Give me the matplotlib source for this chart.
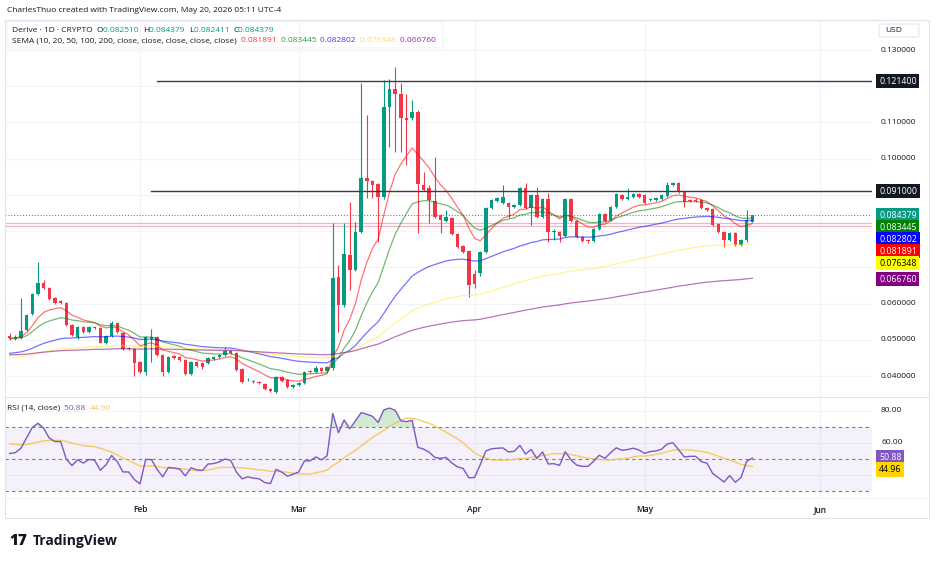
import matplotlib
matplotlib.use("Agg")
import matplotlib.pyplot as plt
import matplotlib.dates as mdates
from matplotlib.transforms import blended_transform_factory
from matplotlib.patches import Rectangle, FancyBboxPatch
import numpy as np
import pandas as pd

plt.rcParams['font.family'] = ['Open Sans', 'DejaVu Sans']

# ---------------- data ----------------
start_date = '2026-01-09'
opens = [
    0.0511, 0.0502, 0.0505, 0.0527, 0.0571, 0.0627, 0.0657, 0.0643, 0.0616, 0.0607,
    0.0602, 0.0541, 0.0508, 0.0536, 0.0522, 0.0536, 0.0533, 0.0492, 0.0511, 0.0547,
    0.0519, 0.0478, 0.0475, 0.0439, 0.0411, 0.0502, 0.0508, 0.0458, 0.0411, 0.0455,
    0.0452, 0.0444, 0.0406, 0.0439, 0.0436, 0.0436, 0.0447, 0.0452, 0.0458, 0.0469,
    0.0464, 0.0419, 0.0389, 0.0386, 0.0384, 0.0378, 0.0364, 0.0356, 0.0397, 0.0389,
    0.0370, 0.0375, 0.0381, 0.0414, 0.0411, 0.0422, 0.0414, 0.0422, 0.0673, 0.0596,
    0.0734, 0.0693, 0.0798, 0.0947, 0.0938, 0.0930, 0.0894, 0.1143, 0.1192, 0.1179,
    0.1112, 0.1112, 0.1129, 0.0927, 0.0919, 0.0883, 0.0845, 0.0828, 0.0836, 0.0792,
    0.0759, 0.0745, 0.0682, 0.0685, 0.0742, 0.0864, 0.0883, 0.0878, 0.0878, 0.0867,
    0.0872, 0.0919, 0.0864, 0.0900, 0.0839, 0.0889, 0.0798, 0.0798, 0.0787, 0.0889,
    0.0828, 0.0784, 0.0776, 0.0773, 0.0806, 0.0848, 0.0831, 0.0867, 0.0900, 0.0889,
    0.0894, 0.0903, 0.0900, 0.0886, 0.0886, 0.0889, 0.0897, 0.0927, 0.0933, 0.0908,
    0.0886, 0.0886, 0.0886, 0.0864, 0.0861, 0.0820, 0.0798, 0.0776, 0.0795, 0.0762,
    0.0776, 0.082510]
highs = [
    0.0519, 0.0513, 0.0616, 0.0571, 0.0629, 0.0715, 0.0665, 0.0646, 0.0618, 0.0609,
    0.0604, 0.0543, 0.0538, 0.0538, 0.0538, 0.0539, 0.0535, 0.0513, 0.0552, 0.0549,
    0.0522, 0.0480, 0.0478, 0.0442, 0.0511, 0.0530, 0.0511, 0.0460, 0.0455, 0.0458,
    0.0455, 0.0447, 0.0442, 0.0442, 0.0439, 0.0452, 0.0455, 0.0461, 0.0480, 0.0472,
    0.0466, 0.0422, 0.0395, 0.0389, 0.0386, 0.0381, 0.0367, 0.0400, 0.0400, 0.0392,
    0.0378, 0.0384, 0.0414, 0.0417, 0.0428, 0.0425, 0.0428, 0.0823, 0.0707, 0.0823,
    0.0880, 0.0825, 0.1209, 0.1121, 0.0941, 0.0933, 0.1217, 0.1220, 0.1253, 0.1209,
    0.1179, 0.1162, 0.1135, 0.0963, 0.0927, 0.1005, 0.0848, 0.0858, 0.0839, 0.0795,
    0.0762, 0.0748, 0.0693, 0.0745, 0.0867, 0.0889, 0.0894, 0.0927, 0.0880, 0.0875,
    0.0922, 0.0933, 0.0903, 0.0922, 0.0891, 0.0905, 0.0806, 0.0800, 0.0891, 0.0891,
    0.0831, 0.0787, 0.0778, 0.0809, 0.0850, 0.0850, 0.0870, 0.0905, 0.0903, 0.0919,
    0.0905, 0.0905, 0.0903, 0.0891, 0.0894, 0.0903, 0.0936, 0.0936, 0.0936, 0.0911,
    0.0889, 0.0891, 0.0889, 0.0867, 0.0864, 0.0823, 0.0800, 0.0798, 0.0798, 0.0778,
    0.0858, 0.084379]
lows = [
    0.0500, 0.0500, 0.0502, 0.0525, 0.0569, 0.0624, 0.0640, 0.0610, 0.0600, 0.0600,
    0.0538, 0.0510, 0.0502, 0.0519, 0.0520, 0.0531, 0.0490, 0.0489, 0.0508, 0.0519,
    0.0472, 0.0472, 0.0400, 0.0408, 0.0403, 0.0439, 0.0455, 0.0400, 0.0408, 0.0447,
    0.0441, 0.0403, 0.0403, 0.0425, 0.0419, 0.0433, 0.0444, 0.0450, 0.0455, 0.0461,
    0.0414, 0.0381, 0.0386, 0.0381, 0.0378, 0.0361, 0.0356, 0.0353, 0.0384, 0.0367,
    0.0367, 0.0373, 0.0378, 0.0408, 0.0408, 0.0411, 0.0411, 0.0417, 0.0522, 0.0590,
    0.0638, 0.0690, 0.0795, 0.0891, 0.0891, 0.0770, 0.0888, 0.1033, 0.1018, 0.1018,
    0.0982, 0.1107, 0.0795, 0.0911, 0.0823, 0.0836, 0.0795, 0.0825, 0.0789, 0.0753,
    0.0740, 0.0618, 0.0643, 0.0676, 0.0740, 0.0861, 0.0880, 0.0875, 0.0836, 0.0864,
    0.0869, 0.0861, 0.0817, 0.0836, 0.0836, 0.0770, 0.0776, 0.0770, 0.0784, 0.0825,
    0.0781, 0.0770, 0.0767, 0.0770, 0.0803, 0.0825, 0.0828, 0.0864, 0.0886, 0.0886,
    0.0891, 0.0891, 0.0875, 0.0883, 0.0883, 0.0886, 0.0894, 0.0925, 0.0905, 0.0867,
    0.0880, 0.0880, 0.0861, 0.0856, 0.0814, 0.0795, 0.0757, 0.0773, 0.0759, 0.0759,
    0.0770, 0.082411]
closes = [
    0.0505, 0.0508, 0.0524, 0.0569, 0.0627, 0.0657, 0.0643, 0.0613, 0.0602, 0.0602,
    0.0541, 0.0513, 0.0536, 0.0522, 0.0536, 0.0533, 0.0492, 0.0511, 0.0547, 0.0522,
    0.0475, 0.0475, 0.0436, 0.0411, 0.0508, 0.0508, 0.0458, 0.0411, 0.0453, 0.0450,
    0.0444, 0.0405, 0.0439, 0.0428, 0.0425, 0.0450, 0.0452, 0.0458, 0.0469, 0.0464,
    0.0417, 0.0384, 0.0390, 0.0384, 0.0381, 0.0364, 0.0359, 0.0397, 0.0386, 0.0370,
    0.0375, 0.0381, 0.0411, 0.0411, 0.0422, 0.0414, 0.0425, 0.0671, 0.0596, 0.0737,
    0.0693, 0.0798, 0.0947, 0.0938, 0.0927, 0.0894, 0.1143, 0.1192, 0.1179, 0.1112,
    0.1107, 0.1129, 0.0930, 0.0914, 0.0886, 0.0839, 0.0831, 0.0839, 0.0792, 0.0757,
    0.0743, 0.0651, 0.0654, 0.0742, 0.0864, 0.0886, 0.0891, 0.0894, 0.0867, 0.0872,
    0.0919, 0.0864, 0.0900, 0.0839, 0.0889, 0.0798, 0.0800, 0.0787, 0.0889, 0.0828,
    0.0784, 0.0773, 0.0773, 0.0806, 0.0848, 0.0828, 0.0867, 0.0903, 0.0889, 0.0894,
    0.0903, 0.0894, 0.0878, 0.0888, 0.0891, 0.0900, 0.0927, 0.0933, 0.0908, 0.0880,
    0.0883, 0.0883, 0.0864, 0.0858, 0.0817, 0.0798, 0.0776, 0.0795, 0.0762, 0.0776,
    0.0831, 0.084379]

ema_periods = [10, 20, 50, 100, 200]
ema_seeds = [0.0505, 0.0503, 0.0461, 0.0450, 0.0458]   # line levels at first candle
ema_last = [0.081891, 0.083445, 0.082802, 0.076348, 0.066760]
ema_line_colors = ['#FF0000', '#008000', '#0000FF', '#FFEB3B', '#800080']
ema_box_colors = ['#FF0000', '#008000', '#0000FF', '#FFFF00', '#800080']
ema_box_text = ['white', 'white', 'white', 'black', 'white']

hlines_levels = [0.1214, 0.0910]
hlines_start = ['2026-02-04', '2026-02-03']
pink_levels = [0.0823, 0.0815]

rsi_seed_gain, rsi_seed_loss = 0.0012, 0.0010
rsi_ma_seed = 60.0
rsi_last, rsi_ma_last = 50.88, 44.96

price_ticks = [0.04, 0.05, 0.06, 0.07, 0.08, 0.09, 0.10, 0.11, 0.12, 0.13]
rsi_ticks = [40, 60, 80]
month_labels = ['Feb', 'Mar', 'Apr', 'May', 'Jun']
month_dates = ['2026-02-01', '2026-03-01', '2026-04-01', '2026-05-01', '2026-06-01']

header_credit = 'CharlesThuo created with TradingView.com, May 20, 2026 05:11 UTC-4'

# ---------------- derived series ----------------
o = np.array(opens); h = np.array(highs); l = np.array(lows); c = np.array(closes)
n = len(c)
dates = pd.date_range(start_date, periods=n, freq='D')
xs = mdates.date2num(dates)


def ema(vals, period, seed):
    a = 2.0 / (period + 1)
    e = seed
    out = []
    for v in vals:
        e = a * v + (1 - a) * e
        out.append(e)
    return np.array(out)


emas = [ema(c, p, s) for p, s in zip(ema_periods, ema_seeds)]

deltas = np.diff(np.concatenate([[o[0]], c]))
ag, al = rsi_seed_gain, rsi_seed_loss
rsi = []
for d in deltas:
    ag = (ag * 13 + max(d, 0)) / 14
    al = (al * 13 + max(-d, 0)) / 14
    rsi.append(100 - 100 / (1 + ag / al))
rsi = np.array(rsi)
padded = np.concatenate([np.full(13, rsi_ma_seed), rsi])
rsi_ma = np.array([padded[i:i + 14].mean() for i in range(n)])

# ---------------- layout ----------------
W, H = 936, 562
fig = plt.figure(figsize=(W / 100, H / 100), dpi=100)
fig.patch.set_facecolor('white')
L, R, T, MID, BOT = 5, 872, 20, 397, 498
ax = fig.add_axes([L / W, 1 - MID / H, (R - L) / W, (MID - T) / H])
rx = fig.add_axes([L / W, 1 - BOT / H, (R - L) / W, (BOT - MID) / H], sharex=ax)
for a in (ax, rx):
    a.set_facecolor('white')
    for s in a.spines.values():
        s.set_visible(False)
    a.tick_params(left=False, bottom=False, right=False, top=False,
                  labelleft=False, labelbottom=False)

x0 = xs[0]
ax.set_xlim(x0 - 0.81, x0 + 152.1)
YLO, YHI = 0.03423, 0.13828
ax.set_ylim(YLO, YHI)
RLO, RHI = 25.6, 88.75
rx.set_ylim(RLO, RHI)
px_per_price = (MID - T) / (YHI - YLO)
px_per_rsi = (BOT - MID) / (RHI - RLO)

GRID = '#F0F3FA'
mx = mdates.date2num(pd.to_datetime(month_dates))
for p in price_ticks:
    ax.axhline(p, color=GRID, lw=0.8, zorder=0)
for r in rsi_ticks:
    rx.axhline(r, color=GRID, lw=0.8, zorder=0)
for m in mx:
    ax.axvline(m, color=GRID, lw=0.8, zorder=0)
    rx.axvline(m, color=GRID, lw=0.8, zorder=0)

GREEN, RED = '#089981', '#F23645'
up = c >= o
cols = np.where(up, GREEN, RED)
ax.vlines(xs, l, h, colors=cols, lw=0.8, zorder=3)
ax.bar(xs, np.maximum(np.abs(c - o), 0.00012), bottom=np.minimum(o, c),
       width=0.62, color=cols, linewidth=0, zorder=4)

for e, col in zip(emas, ema_line_colors):
    ax.plot(xs, e, color=col, lw=0.9, alpha=0.55, zorder=5)

for lev, sd in zip(hlines_levels, hlines_start):
    xsd = mdates.date2num(pd.Timestamp(sd))
    ax.plot([xsd, x0 + 152.1], [lev, lev], color='#3a3d45', lw=1.0, zorder=6)
for lev in pink_levels:
    ax.axhline(lev, color='#F5B3C0', lw=0.9, zorder=1)
ax.axhline(c[-1], color=GREEN, lw=0.7, ls=(0, (1, 2)), zorder=1)

# price scale labels
trans = blended_transform_factory(ax.transAxes, ax.transData)
xl = (881 - L) / (R - L)
xb = (879 - L) / (R - L)

boxes = [(lev, '#131722', 'white') for lev in hlines_levels]
labels = [(c[-1], GREEN, 'white')] + list(zip(ema_last, ema_box_colors, ema_box_text))
labels.sort(key=lambda t: -t[0])
step = 12 / px_per_price
prev = None
for val, fc, tc in labels:
    yv = val if prev is None else min(val, prev - step)
    prev = yv
    boxes.append((yv, fc, tc, val))
box_pos = [b[0] for b in boxes]

for p in price_ticks:
    # a tick label hidden behind a value label is not drawn
    if min(abs(p - b) for b in box_pos) * px_per_price < 7.5:
        continue
    ax.text(xl, p, f'{p:.6f}', transform=trans, fontsize=6, color='#131722',
            va='center', ha='left', clip_on=False, zorder=10)

for b in boxes:
    yv, fc, tc = b[0], b[1], b[2]
    val = b[3] if len(b) > 3 else b[0]
    ax.text(xb, yv, f'{val:.6f}', transform=trans, fontsize=6.3, color=tc,
            va='center', ha='left', clip_on=False, zorder=30,
            bbox=dict(boxstyle='square,pad=0.3', fc=fc, ec='none'))

# RSI pane
PURP = '#7E57C2'
YEL = '#F5C542'
rx.axhspan(30, 70, color=PURP, alpha=0.08, lw=0, zorder=0)
for lv in (70, 50, 30):
    rx.axhline(lv, color='#787B86', lw=0.8, ls=(0, (3, 3)), zorder=1)
rx.fill_between(xs, 70, rsi, where=rsi > 70, interpolate=True, color='#4CAF50',
                alpha=0.25, lw=0, zorder=2)
rx.plot(xs, rsi_ma, color=YEL, lw=1.0, alpha=0.85, zorder=3)
rx.plot(xs, rsi, color=PURP, lw=1.0, zorder=4)

rtrans = blended_transform_factory(rx.transAxes, rx.transData)
rl = [(rsi_last, PURP, 'white'), (rsi_ma_last, '#FFD600', 'black')]
rpos = []
prev = None
for val, fc, tc in rl:
    yv = val if prev is None else min(val, prev - 12 / px_per_rsi)
    prev = yv
    rpos.append(yv)
    rx.text(xb, yv, f'{val:.2f}', transform=rtrans, fontsize=6.3, color=tc,
            va='center', ha='left', clip_on=False, zorder=30,
            bbox=dict(boxstyle='square,pad=0.3', fc=fc, ec='none'))
for r in rsi_ticks:
    if min(abs(r - b) for b in rpos) * px_per_rsi < 7.5:
        continue
    rx.text(xl, r, f'{r:.2f}', transform=rtrans, fontsize=6, color='#131722',
            va='center', ha='left', clip_on=False, zorder=10)

ttrans = blended_transform_factory(rx.transData, rx.transAxes)
for m, lab in zip(mx, month_labels):
    rx.text(m, -0.11, lab, transform=ttrans, fontsize=6, color='#131722',
            fontweight='semibold', ha='center', va='center', clip_on=False)

# overlay for frames and header texts (pixel coordinates)
ov = fig.add_axes([0, 0, 1, 1])
ov.set_xlim(0, W); ov.set_ylim(H, 0); ov.axis('off'); ov.patch.set_alpha(0)
ov.add_patch(Rectangle((L, T), 929 - L, 518 - T, fill=False, ec='#E0E3EB', lw=0.8))
ov.plot([L, 929], [MID, MID], color='#E0E3EB', lw=0.8)
ov.plot([L, 929], [BOT, BOT], color='#F0F3FA', lw=0.8)
ov.add_patch(FancyBboxPatch((879, 24), 40, 13, boxstyle='round,pad=0,rounding_size=2',
                            fill=False, ec='#E0E3EB', lw=0.7))
ov.text(885, 30.5, 'USD', fontsize=6, color='#131722', va='center', ha='left')
ov.add_patch(FancyBboxPatch((7, 22), 436, 26, boxstyle='round,pad=0,rounding_size=2',
                            fill=False, ec='#EEF0F4', lw=0.7))

ov.text(7, 10, header_credit, fontsize=6, color='#131722', va='center', ha='left')

DARK = '#131722'


def chain(x, y, parts, fs=6):
    t = ov.text(x, y, parts[0][0], fontsize=fs, color=parts[0][1], va='center', ha='left')
    for s, col in parts[1:]:
        t = ov.annotate(s, xy=(1, 0), xycoords=t, xytext=(0, 0), textcoords='offset points',
                        fontsize=fs, color=col, va='bottom', ha='left')
    return t


ohlc_vals = [o[-1], h[-1], l[-1], c[-1]]
parts1 = [('Derive · 1D · CRYPTO  ', DARK)]
for k, v in zip('OHLC', ohlc_vals):
    parts1 += [(k, DARK), (f'{v:.6f}  ', GREEN)]
chain(12, 30, parts1)

parts2 = [('SEMA (10, 20, 50, 100, 200, close, close, close, close, close)  ', DARK)]
for v, col in zip(ema_last, ['#F23645', '#2E9E3E', '#3F3FE8', '#F5E24A', '#9C27B0']):
    parts2.append((f'{v:.6f}  ', col))
chain(12, 41, parts2)

chain(7, 408, [('RSI (14, close)  ', DARK), (f'{rsi_last:.2f}  ', PURP),
               (f'{rsi_ma_last:.2f}', '#F2C94C')])

ov.text(9, 541, '17', fontsize=11, fontweight='heavy', color=DARK, va='center', ha='left')
ov.text(33, 541, 'TradingView', fontsize=10, fontweight='bold', color=DARK,
        va='center', ha='left')

fig.savefig('out.png', dpi=100, facecolor='white')
